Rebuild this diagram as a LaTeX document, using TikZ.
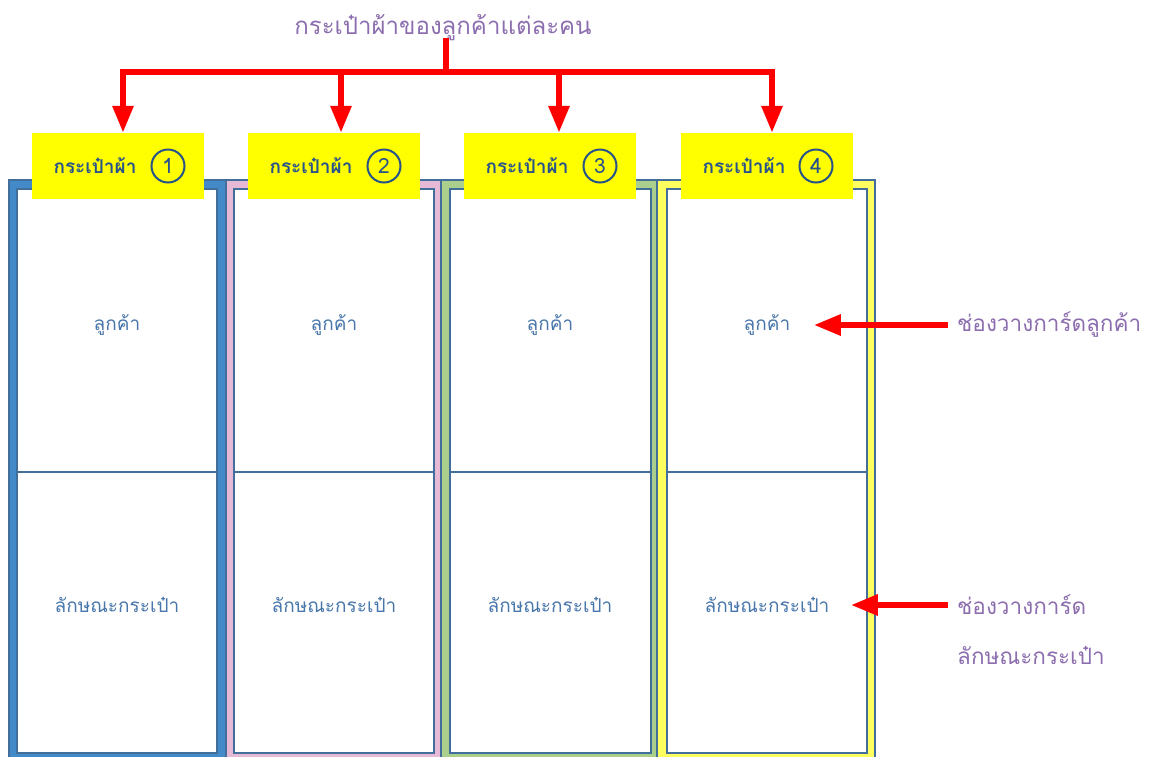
\documentclass[tikz,border=0pt]{standalone}
\usepackage{fontspec}
\newfontfamily\thaifont[Script=Thai]{Loma}
\usetikzlibrary{arrows.meta}
\definecolor{frameblue}{RGB}{68,138,200}
\definecolor{framepink}{RGB}{230,186,215}
\definecolor{framegreen}{RGB}{170,207,140}
\definecolor{frameyellow}{RGB}{255,255,95}
\definecolor{edgeblue}{RGB}{65,110,155}
\definecolor{tagblue}{RGB}{40,82,140}
\definecolor{cellblue}{RGB}{72,118,170}
\definecolor{notepurple}{RGB}{140,110,175}
\definecolor{tagyellow}{RGB}{255,255,0}
\tikzset{
  edge/.style={draw=edgeblue, line width=1.2pt},
  tag/.style={fill=tagyellow, minimum width=172pt, minimum height=66pt, inner sep=0pt},
  tagtext/.style={font=\thaifont\bfseries\fontsize{19}{22}\selectfont, text=tagblue},
  num/.style={circle, draw=tagblue, line width=2pt, minimum size=33pt, inner sep=0pt,
    text=tagblue, font=\thaifont\fontsize{21}{24}\selectfont},
  cell/.style={font=\thaifont\fontsize{19}{22}\selectfont, text=cellblue},
  note/.style={font=\thaifont\fontsize{22.5}{27}\selectfont, text=notepurple, anchor=west, inner sep=0pt},
  redline/.style={draw=red, line width=6pt},
  redarrow/.style={redline, -{Triangle[width=20pt,length=27pt]}},
}
\begin{document}
\begin{tikzpicture}[x=1pt,y=-1pt]
    \useasboundingbox (0,0) rectangle (1149,756);
    % bag 1
    \draw[edge, fill=frameblue] (9,180) rectangle (226,758);
    \draw[edge, fill=white] (17,189) rectangle (217,753);
    \draw[edge] (17,472) -- (217,472);
    \node[cell] (cust1) at (117,325) {ลูกค้า};
    \node[cell] (feat1) at (117,605) {ลักษณะกระเป๋า};
    % bag 2
    \draw[edge, fill=framepink] (226,180) rectangle (441,758);
    \draw[edge, fill=white] (234,189) rectangle (434,753);
    \draw[edge] (234,472) -- (434,472);
    \node[cell] (cust2) at (334,325) {ลูกค้า};
    \node[cell] (feat2) at (334,605) {ลักษณะกระเป๋า};
    % bag 3
    \draw[edge, fill=framegreen] (441,180) rectangle (657,758);
    \draw[edge, fill=white] (450,189) rectangle (651,753);
    \draw[edge] (450,472) -- (651,472);
    \node[cell] (cust3) at (550,325) {ลูกค้า};
    \node[cell] (feat3) at (550,605) {ลักษณะกระเป๋า};
    % bag 4
    \draw[edge, fill=frameyellow] (657,180) rectangle (875,758);
    \draw[edge, fill=white] (667,189) rectangle (867,753);
    \draw[edge] (667,472) -- (867,472);
    \node[cell] (cust4) at (767,325) {ลูกค้า};
    \node[cell] (feat4) at (767,605) {ลักษณะกระเป๋า};
    %
    \node[tag] (tag1) at (118,166) {};
    \node[tagtext] at (95,166) {กระเป๋าผ้า};
    \node[num] (num1) at (168,166) {1};
    \node[tag] (tag2) at (334,166) {};
    \node[tagtext] at (311,166) {กระเป๋าผ้า};
    \node[num] (num2) at (384,166) {2};
    \node[tag] (tag3) at (550,166) {};
    \node[tagtext] at (527,166) {กระเป๋าผ้า};
    \node[num] (num3) at (600,166) {3};
    \node[tag] (tag4) at (767,166) {};
    \node[tagtext] at (744,166) {กระเป๋าผ้า};
    \node[num] (num4) at (816,166) {4};
    %
    \node[note, anchor=center, font=\thaifont\fontsize{24}{28}\selectfont] (title) at (443,28) {กระเป๋าผ้าของลูกค้าแต่ละคน};
    \coordinate (hub) at (446,72);
    \draw[redline] ([yshift=3pt]hub |- title.south) -- (hub);
    \draw[redarrow] (hub) -| ([xshift=5pt]tag1.north);
    \draw[redarrow] (hub) -| ([xshift=7pt]tag2.north);
    \draw[redarrow] (hub) -| ([xshift=9pt]tag3.north);
    \draw[redarrow] (hub) -| ([xshift=5pt]tag4.north);
    %
    \node[note] (note1) at (957,325) {ช่องวางการ์ดลูกค้า};
    \draw[redarrow] ([xshift=-9pt]note1.west) -- ([xshift=20pt]cust4.east);
    \node[note] (note2) at (957,605) {ช่องวางการ์ด};
    \node[note] (note3) at (957,655) {ลักษณะกระเป๋า};
    \draw[redarrow] ([xshift=-9pt]note2.west) -- ([xshift=18pt]feat4.east);
\end{tikzpicture}
\end{document}
